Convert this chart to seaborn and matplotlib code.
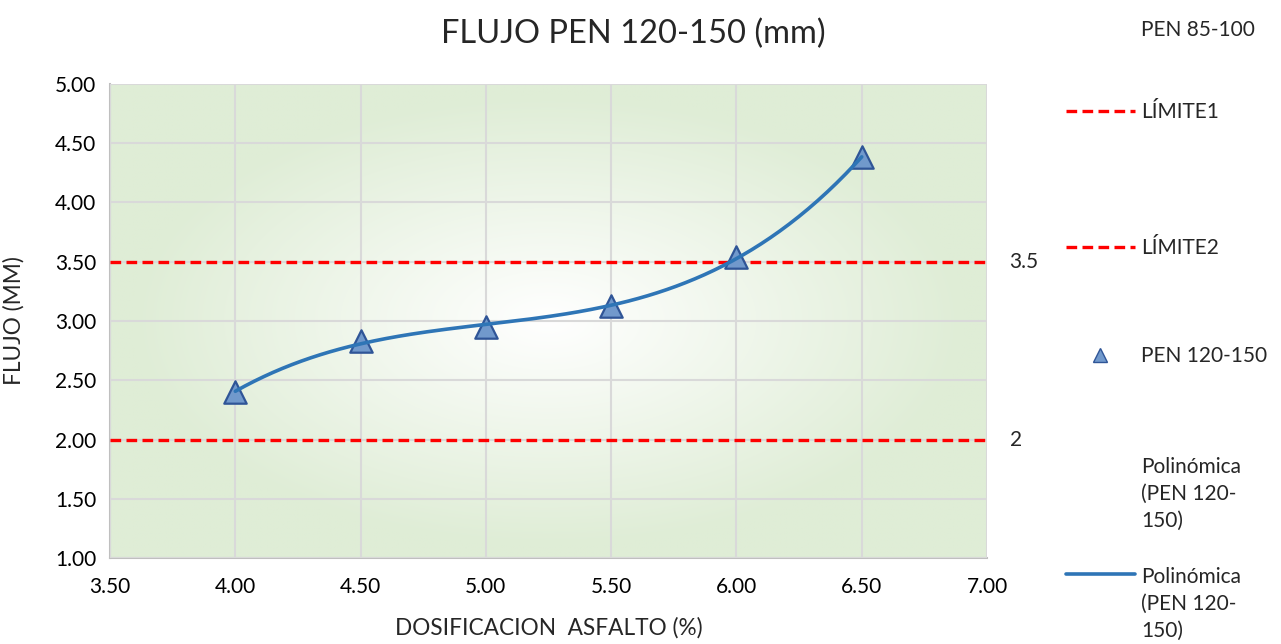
import numpy as np
import pandas as pd
import matplotlib
matplotlib.use("Agg")
import matplotlib.pyplot as plt
from matplotlib.lines import Line2D
import seaborn as sns

# Asphalt content (%) and measured flow (mm) for PEN 120-150
dosificacion = [4.0, 4.5, 5.0, 5.5, 6.0, 6.5]
flujo = [2.40, 2.83, 2.95, 3.13, 3.54, 4.38]

# Specification limits
limite1 = 3.5
limite2 = 2.0
limite_x = [3.5, 7.0]

xticks = [3.5, 4.0, 4.5, 5.0, 5.5, 6.0, 6.5, 7.0]
yticks = [1.0, 1.5, 2.0, 2.5, 3.0, 3.5, 4.0, 4.5, 5.0]

sns.set_theme(style="white")
plt.rcParams["font.family"] = ["Lato", "DejaVu Sans"]

df = pd.DataFrame({"x": dosificacion, "y": flujo})

fig = plt.figure(figsize=(12.81, 6.44), dpi=100)
ax = fig.add_axes([0.0859, 0.1335, 0.6846, 0.7361])

# radial background: white centre fading to pale green
nx, ny = 400, 200
gx = np.linspace(-1, 1, nx)
gy = np.linspace(-1, 1, ny)
GX, GY = np.meshgrid(gx, gy)
r = np.clip(np.sqrt(GX**2 + GY**2) / 0.95, 0, 1)
white = np.array([1.0, 1.0, 1.0])
green = np.array([0xdf, 0xed, 0xd6]) / 255.0
img = white[None, None, :] * (1 - r[..., None]) + green[None, None, :] * r[..., None]
ax.imshow(img, extent=[3.5, 7.0, 1.0, 5.0], aspect="auto", zorder=0,
          interpolation="bilinear")

ax.set_xlim(3.5, 7.0)
ax.set_ylim(1.0, 5.0)
ax.set_xticks(xticks)
ax.set_yticks(yticks)
ax.set_xticklabels([f"{v:.2f}" for v in xticks])
ax.set_yticklabels([f"{v:.2f}" for v in yticks])
ax.grid(True, color="#d9d9d9", linewidth=1.5, zorder=1)
ax.set_axisbelow(False)
for side in ["top", "right"]:
    ax.spines[side].set_visible(False)
for side in ["left", "bottom"]:
    ax.spines[side].set_color("#bfbfbf")
    ax.spines[side].set_linewidth(1.5)
ax.tick_params(axis="both", labelsize=15, colors="black", length=0)
ax.tick_params(axis="x", pad=14)
ax.tick_params(axis="y", pad=10)

# limit lines
red = "#ff0000"
dash = [3.2, 1.6]
lim_df1 = pd.DataFrame({"x": limite_x, "y": [limite1, limite1]})
lim_df2 = pd.DataFrame({"x": limite_x, "y": [limite2, limite2]})
sns.lineplot(data=lim_df1, x="x", y="y", ax=ax, color=red, linewidth=2.4,
             dashes=False, zorder=3)
sns.lineplot(data=lim_df2, x="x", y="y", ax=ax, color=red, linewidth=2.4,
             dashes=False, zorder=3)
for ln in ax.lines[-2:]:
    ln.set_dashes(dash)
ax.text(7.0 + 0.09, limite1, f"{limite1:g}", fontsize=15, va="center", ha="left",
        clip_on=False)
ax.text(7.0 + 0.09, limite2, f"{limite2:g}", fontsize=15, va="center", ha="left",
        clip_on=False)

# cubic trend line
coef = np.polyfit(dosificacion, flujo, 3)
xs = np.linspace(min(dosificacion), max(dosificacion), 200)
trend = pd.DataFrame({"x": xs, "y": np.polyval(coef, xs)})
blue = "#2e75b6"
sns.lineplot(data=trend, x="x", y="y", ax=ax, color=blue, linewidth=2.6, zorder=5)

# measured points
sns.scatterplot(data=df, x="x", y="y", ax=ax, marker="^", s=260,
                color="#7199cc", edgecolor="#2f5597", linewidth=1.6, zorder=4)

ax.set_xlabel("DOSIFICACION  ASFALTO (%)", fontsize=16.3, labelpad=14)
ax.set_ylabel("FLUJO (MM)", fontsize=16.3, labelpad=22)
fig.text(0.494, 0.948, "FLUJO PEN 120-150 (mm)", fontsize=23.5, ha="center", va="center")

# legend entries
entries = [
    (Line2D([], [], linestyle="none"), "PEN 85-100", 0.953),
    (Line2D([], [], color=red, linewidth=2.4, dashes=dash), "LÍMITE1", 0.826),
    (Line2D([], [], color=red, linewidth=2.4, dashes=dash), "LÍMITE2", 0.615),
    (Line2D([], [], linestyle="none", marker="^", markersize=10,
            markerfacecolor="#7199cc", markeredgecolor="#2f5597"), "PEN 120-150", 0.447),
    (Line2D([], [], linestyle="none"), "Polinómica\n(PEN 120-\n150)", 0.233),
    (Line2D([], [], color=blue, linewidth=2.6), "Polinómica\n(PEN 120-\n150)", 0.062),
]
for handle, label, ypos in entries:
    leg = fig.legend(handles=[handle], labels=[label], loc="center left",
                     bbox_to_anchor=(0.832, ypos), frameon=False, fontsize=15,
                     handlelength=3.3, handletextpad=0.3, borderpad=0, borderaxespad=0)
    for t in leg.get_texts():
        t.set_linespacing(1.45)
    if "\n" in label:
        # put the handle next to the first text line
        item = leg._legend_handle_box.get_children()[0].get_children()[0]
        item.align = "top"

fig.savefig("out.png", dpi=100)
